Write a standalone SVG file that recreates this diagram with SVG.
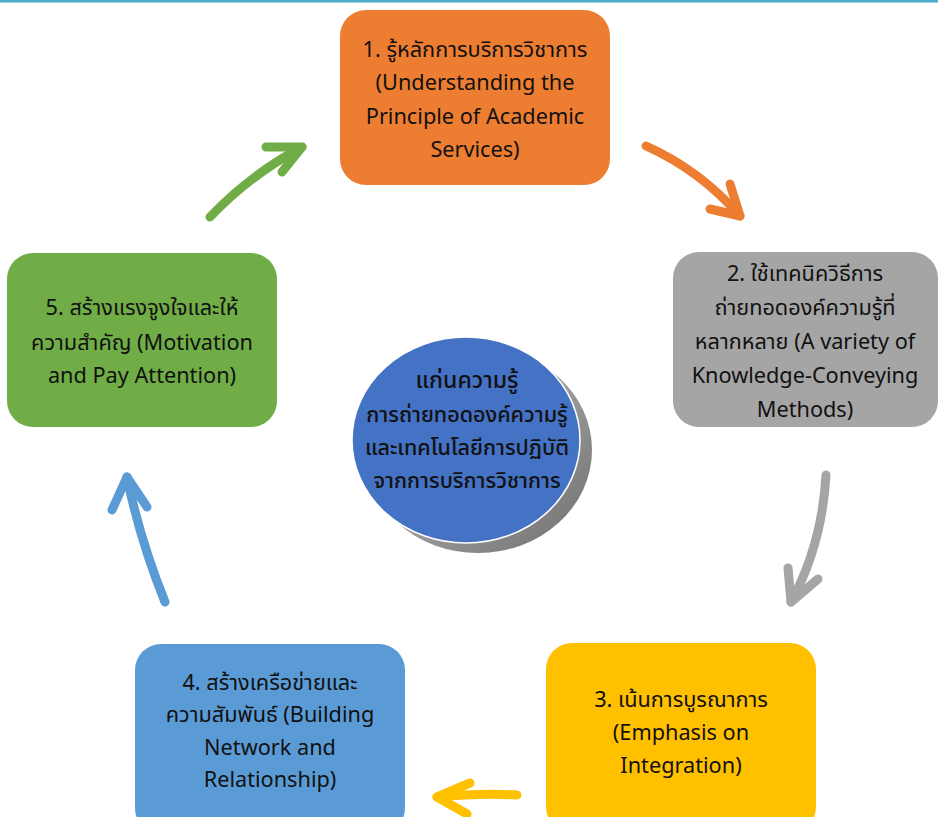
<svg xmlns="http://www.w3.org/2000/svg" width="938" height="817" viewBox="0 0 938 817">
<style>
.t{font-family:"Noto Sans","Noto Sans Thai","Liberation Sans",sans-serif;font-size:21.7px;fill:#111;text-anchor:middle}
.c{font-size:21.5px;font-weight:500}
.a{fill:none;stroke-width:9;stroke-linecap:round;stroke-linejoin:round}
</style>
<defs>
<linearGradient id="sh" x1="0" y1="0" x2="1" y2="1">
<stop offset="0" stop-color="#d0d0d0"/>
<stop offset="1" stop-color="#6e6e6e"/>
</linearGradient>
</defs>
<rect x="0" y="0" width="938" height="817" fill="#fff"/>
<line x1="0" y1="1" x2="938" y2="1" stroke="#4BACC6" stroke-width="3"/>

<g id="connectors">
<path class="a" stroke="#ED7D31" d="M646,146 Q700,170 740,216"/>
<polyline class="a" stroke="#ED7D31" points="730,184 740,216 710,209"/>
<path class="a" stroke="#A5A5A5" d="M826,475 Q822,545 791,602"/>
<polyline class="a" stroke="#A5A5A5" points="788,568 791,602 818,579"/>
<path class="a" stroke="#FFC000" d="M517,795 Q480,793 437,797"/>
<polyline class="a" stroke="#FFC000" points="470,783 437,797 467,814"/>
<path class="a" stroke="#5B9BD5" d="M165,602 Q140,540 127,477"/>
<polyline class="a" stroke="#5B9BD5" points="112,510 127,477 147,507"/>
<path class="a" stroke="#70AD47" d="M210,217 Q250,175 302,147"/>
<polyline class="a" stroke="#70AD47" points="266,147 302,147 282,172"/>
</g>

<g id="node1">
<rect x="340" y="10" width="270" height="175" rx="26" fill="#ED7D31"/>
<text class="t" x="475" y="57">1. รู้หลักการบริการวิชาการ</text>
<text class="t" x="475" y="90">(Understanding the</text>
<text class="t" x="475" y="124">Principle of Academic</text>
<text class="t" x="475" y="157">Services)</text>
</g>

<g id="node2">
<rect x="673" y="252" width="265" height="175" rx="26" fill="#A5A5A5"/>
<text class="t" x="805" y="281">2. ใช้เทคนิควิธีการ</text>
<text class="t" x="805" y="315">ถ่ายทอดองค์ความรู้ที่</text>
<text class="t" x="805" y="349">หลากหลาย (A variety of</text>
<text class="t" x="805" y="383">Knowledge-Conveying</text>
<text class="t" x="805" y="417">Methods)</text>
</g>

<g id="node3">
<rect x="546" y="643" width="270" height="190" rx="26" fill="#FFC000"/>
<text class="t" x="681" y="707">3. เน้นการบูรณาการ</text>
<text class="t" x="681" y="740">(Emphasis on</text>
<text class="t" x="681" y="773">Integration)</text>
</g>

<g id="node4">
<rect x="135" y="644" width="270" height="190" rx="26" fill="#5B9BD5"/>
<text class="t" x="270" y="690">4. สร้างเครือข่ายและ</text>
<text class="t" x="270" y="722">ความสัมพันธ์  (Building</text>
<text class="t" x="270" y="755">Network and</text>
<text class="t" x="270" y="787">Relationship)</text>
</g>

<g id="node5">
<rect x="7" y="253" width="270" height="174" rx="26" fill="#70AD47"/>
<text class="t" x="142" y="315">5. สร้างแรงจูงใจและให้</text>
<text class="t" x="142" y="350">ความสำคัญ  (Motivation</text>
<text class="t" x="142" y="383">and Pay Attention)</text>
</g>

<g id="center">
<ellipse cx="478" cy="450" rx="114" ry="103" fill="url(#sh)"/>
<ellipse cx="466" cy="440" rx="114" ry="103" fill="#4472C4" stroke="#fff" stroke-width="1.5"/>
<text class="t c" x="467" y="388" style="font-size:23px">แก่นความรู้</text>
<text class="t c" x="467" y="422">การถ่ายทอดองค์ความรู้</text>
<text class="t c" x="467" y="455">และเทคโนโลยีการปฏิบัติ</text>
<text class="t c" x="467" y="488">จากการบริการวิชาการ</text>
</g>
</svg>
